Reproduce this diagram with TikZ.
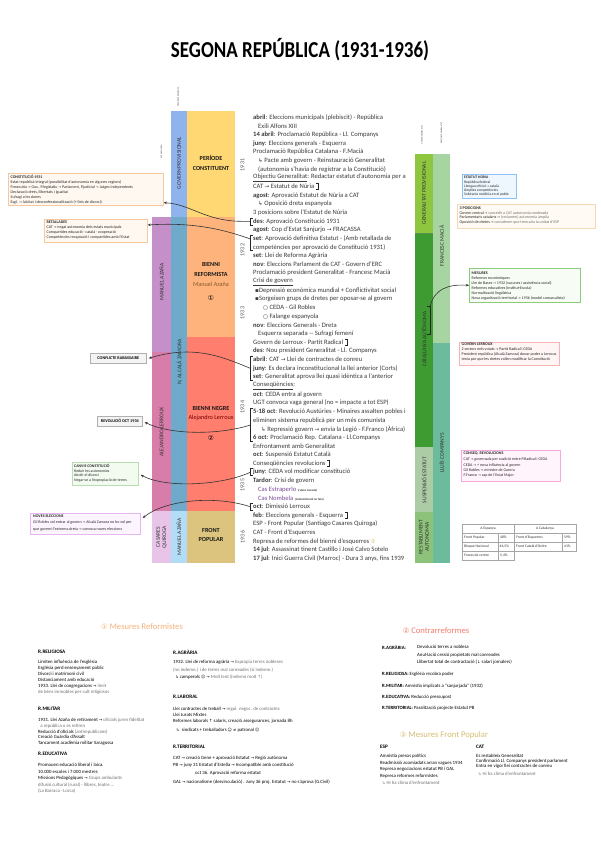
\documentclass[tikz,border=0pt]{standalone}
\usepackage{fontspec}
\setmainfont{Carlito}
\newfontfamily\djv[Scale=0.85]{DejaVu Sans}
\usetikzlibrary{arrows.meta}
\pgfdeclarelayer{bglayer}
\pgfdeclarelayer{connlayer}
\pgfdeclarelayer{toplayer}
\pgfsetlayers{bglayer,connlayer,main,toplayer}
\definecolor{tx}{HTML}{3A3A3A}
\definecolor{gry}{HTML}{707070}
\definecolor{cPurp}{HTML}{C58FC9}
\definecolor{cMauve}{HTML}{D87CAA}
\definecolor{cLilac}{HTML}{E8C4E9}
\definecolor{cBlueA}{HTML}{8FB3EC}
\definecolor{cBlueB}{HTML}{6FAACB}
\definecolor{cBlueC}{HTML}{B3DDF7}
\definecolor{cYel}{HTML}{FFD874}
\definecolor{cOra}{HTML}{FFB37C}
\definecolor{cRed}{HTML}{FF7E6E}
\definecolor{cKha}{HTML}{DCC37E}
\definecolor{bgY}{HTML}{FFF4D4}
\definecolor{bgPa}{HTML}{FDE4DC}
\definecolor{bgPb}{HTML}{FFC2C4}
\definecolor{bgYb}{HTML}{FAF4CA}
\definecolor{gGen}{HTML}{8EC63F}
\definecolor{gCat}{HTML}{3E9B32}
\definecolor{gSus}{HTML}{ABCCA5}
\definecolor{gRes}{HTML}{8DC27A}
\definecolor{gMac}{HTML}{A7D5A1}
\definecolor{gComp}{HTML}{6CBB9D}
\definecolor{bOra}{HTML}{F6C8A2}
\definecolor{bOraF}{HTML}{FFF8F1}
\definecolor{bGr}{HTML}{B0B0B0}
\definecolor{bGrF}{HTML}{F4F4F4}
\definecolor{bGn}{HTML}{B9DDB0}
\definecolor{bGnF}{HTML}{F3FBF1}
\definecolor{bVi}{HTML}{E7B5F2}
\definecolor{bViF}{HTML}{FCF4FF}
\definecolor{bBl}{HTML}{8EC2F2}
\definecolor{bBlF}{HTML}{EEF6FE}
\definecolor{bBe}{HTML}{F3D9B5}
\definecolor{bBeF}{HTML}{FFFBF4}
\definecolor{bMe}{HTML}{8CCB7A}
\definecolor{bMeF}{HTML}{F7FCF4}
\definecolor{bPk}{HTML}{F4B4B8}
\definecolor{bPkF}{HTML}{FFF5F5}
\definecolor{bMg}{HTML}{F7A8DE}
\definecolor{bMgF}{HTML}{FFF4FB}
\definecolor{tRef}{HTML}{F7B27A}
\definecolor{tCon}{HTML}{F47C6C}
\definecolor{tFP}{HTML}{D6BD72}
\definecolor{cPurTx}{HTML}{7A4A9A}
\newcommand\myra{{\djv →}}
\newcommand\myhk{{\djv ↳}}
\newcommand\mysq{{\djv ▪}}
\newcommand\myci{{\djv ○}}
\newcommand\TL[4]{\node[tl] (#1) at ({253+#3},{117.5+8.65*(#2-1)}) {#4};}
\newcommand\RB[1]{\draw[brk] ([xshift=1.5pt,yshift=3pt]#1.east) -- ++(2,0) -- ++(0,6) -- ++(-2,0); \coordinate (#1r) at ([xshift=3.5pt]#1.east);}
\newcommand\LB[4]{\draw[brk] (253,#1) -- (250.5,#1) -- (250.5,#2) -- (253,#2); \coordinate (#4) at (250.5,#3);}
\begin{document}
\begin{tikzpicture}[x=1pt,y=-1pt,
  tl/.style={anchor=west,inner sep=0pt,font=\fontsize{6.6}{7}\selectfont,text=tx},
  brk/.style={draw=black!85,line width=0.5pt},
  conn/.style={draw=black!80,line width=0.6pt},
  arr/.style={-{Stealth[length=3.2pt,width=2.6pt]}},
  vlab/.style={rotate=90,inner sep=0pt,font=\fontsize{5.6}{6.2}\selectfont,text=black!80,align=center},
  plab/.style={inner sep=0pt,align=center,font=\bfseries\fontsize{6.2}{9.5}\selectfont,text=black!90},
  ylab/.style={rotate=90,inner sep=0pt,font=\fontsize{6}{6}\selectfont,text=black!65},
  tiny/.style={rotate=90,inner sep=0pt,font=\fontsize{2}{2}\selectfont,text=black!80},
  bx/.style={draw,line width=0.7pt,inner sep=0pt,anchor=north west},
  bt/.style={anchor=north west,inner sep=0pt,align=left,text=black!85},
  bl/.style={anchor=north west,inner sep=0pt,align=left,font=\fontsize{4.8}{6}\selectfont,text=black},
  bh/.style={anchor=west,inner sep=0pt,font=\bfseries\fontsize{5.2}{6}\selectfont},
  sect/.style={inner sep=0pt,font=\fontsize{8.6}{9}\selectfont},
]
\useasboundingbox (0,0) rectangle (600,848);
\fill[white] (0,0) rectangle (600,848);

% title
\node[inner sep=0pt,font=\bfseries\fontsize{19}{20}\selectfont] (title) at (300,50) {\scalebox{1}[1.2]{SEGONA REPÚBLICA (1931-1936)}};

% backgrounds
\begin{pgfonlayer}{bglayer}
\fill[bgY] (250,111) rectangle (415,217);
\fill[bgPa] (250,217) rectangle (415,338.1);
\fill[bgPb] (250,338.1) rectangle (415,511.1);
\fill[bgYb] (250,511.1) rectangle (415,563);
\fill[black!7] (235,111) rectangle (250,217);
\fill[black!10] (235,217) rectangle (250,277.5);
\fill[black!4] (235,277.5) rectangle (250,355.4);
\fill[black!3] (235,355.4) rectangle (250,467.8);
\fill[black!10] (235,467.8) rectangle (250,511.1);
\fill[black!4] (235,511.1) rectangle (250,563);
\end{pgfonlayer}

% year labels
\node[ylab] (y31) at (242.5,165) {1931};
\node[ylab] (y32) at (242.5,250) {1932};
\node[ylab] (y33) at (242.5,313) {1933};
\node[ylab] (y34) at (242.5,407) {1934};
\node[ylab] (y35) at (242.5,485) {1935};
\node[ylab] (y36) at (242.5,537) {1936};

% left columns
\fill[cPurp] (152,217) rectangle (171,352);
\fill[cMauve] (152,352) rectangle (171,511.1);
\fill[cLilac] (152,511.1) rectangle (171,563);
\fill[cBlueA] (171,111) rectangle (187,217);
\fill[cBlueB] (171,217) rectangle (187,511.1);
\fill[cBlueC] (171,511.1) rectangle (187,563);
\fill[cYel] (187,111) rectangle (235,217);
\fill[cOra] (187,217) rectangle (235,337);
\fill[cRed] (187,337) rectangle (235,511.1);
\fill[cKha] (187,511.1) rectangle (235,563);

\node[vlab] (vAz) at (161.5,282) {MANUEL AZAÑA};
\node[vlab] (vLe) at (161.5,432) {ALEJANDRO LERROUX};
\node[vlab] (vCa) at (161.5,537) {CASARES\\QUIROGA};
\node[vlab] (vGp) at (179,163) {GOVERN PROVISIONAL};
\node[vlab] (vZa) at (179,362) {N. ALCALÁ ZAMORA};
\node[vlab] (vAz2) at (179,537) {MANUEL AZAÑA};
\node[tiny] (tp1) at (178,97) {PRESIDENT REPÚBLICA};
\node[tiny] (tp2) at (161.5,152) {CAP DE GOVERN};

\node[plab] (pC) at (211,163) {PERÍODE\\CONSTITUENT};
\node[plab] (pR) at (211,269.5) {BIENNI\\REFORMISTA};
\node[inner sep=0pt,font=\fontsize{6.2}{7}\selectfont,text=brown!70!black] (pRn) at (211,284.5) {Manuel Azaña};
\node[inner sep=0pt,font=\fontsize{8}{8}\selectfont] (pR1) at (211,298) {\djv ①};
\node[plab] (pN) at (211,408) {BIENNI NEGRE};
\node[inner sep=0pt,font=\fontsize{6.2}{7}\selectfont,text=red!45!black] (pNn) at (211,418) {Alejandro Lerroux};
\node[inner sep=0pt,font=\fontsize{8}{8}\selectfont] (pN2) at (211,438) {\djv ②};
\node[plab] (pF) at (211,535) {FRONT\\POPULAR};

% right columns
\fill[gGen] (415,154) rectangle (433,233);
\fill[gCat] (415,233) rectangle (433,447);
\fill[gSus] (415,447) rectangle (433,512);
\fill[gRes] (415,512) rectangle (433,563);
\fill[gMac] (433,154) rectangle (450,343);
\fill[gComp] (433,343) rectangle (450,563);
\draw[black!50,dotted,line width=0.4pt] (415,233) -- (433,233);
\node[vlab] (rGp) at (424,193) {GENERALITAT PROVISIONAL};
\node[vlab] (rCa) at (424,339) {CATALUNYA AUTÒNOMA};
\node[vlab] (rSu) at (424,480) {SUSPENSIÓ ESTATUT};
\node[vlab] (rRe) at (424,537) {RESTABLIMENT\\AUTONOMIA};
\node[vlab] (rMa) at (441.5,246) {FRANCESC MACIÀ};
\node[vlab] (rCo) at (441.5,453) {LLUÍS COMPANYS};
\node[tiny] (tp3) at (422,135) {GOVERN GENERALITAT};
\node[tiny] (tp4) at (441.5,133) {PRESIDENT GENERALITAT};

% central text
\TL{l1}{1}{0}{\textbf{abril}: Eleccions municipals (plebiscit) - República}
\TL{l2}{2}{5}{Exili Alfons XIII}
\TL{l3}{3}{0}{\textbf{14 abril}: Proclamació República - Ll. Companys}
\TL{l4}{4}{0}{\textbf{juny}: Eleccions generals - Esquerra}
\TL{l5}{5}{0}{Proclamació República Catalana - F.Macià}
\TL{l6}{6}{5}{\myhk\ Pacte amb govern - Reinstauració Generalitat}
\TL{l7}{7}{5}{(autonomia s'havia de registrar a la Constitució)}
\TL{l8}{8}{0}{\underline{Objectiu Generalitat}: Redactar estatut d'autonomia per a}
\TL{l9}{9}{0}{CAT \myra\ Estatut de Núria}
\TL{l10}{10}{0}{\textbf{agost}: Aprovació Estatut de Núria a CAT}
\TL{l11}{11}{5}{\myhk\ Oposició dreta espanyola}
\TL{l12}{12}{0}{3 posicions sobre l'Estatut de Núria}
\TL{l13}{13}{0}{\textbf{des}: Aprovació Constitució 1931}
\TL{l14}{14}{0}{\textbf{agost}: Cop d'Estat Sanjurjo \myra\ FRACASSA}
\TL{l15}{15}{0}{\textbf{set}: Aprovació definitiva Estatut - (Amb retallada de}
\TL{l16}{16}{0}{competències per aprovació de Constitució 1931)}
\TL{l17}{17}{0}{\textbf{set}: Llei de Reforma Agrària}
\TL{l18}{18}{0}{\textbf{nov}: Eleccions Parlament de CAT - Govern d'ERC}
\TL{l19}{19}{0}{Proclamació president Generalitat - Francesc Macià}
\TL{l20}{20}{0}{\underline{Crisi de govern}}
\TL{l21}{21}{2}{\mysq Depressió econòmica mundial + Conflictivitat social}
\TL{l22}{22}{2}{\mysq Sorgeixen grups de dretes per oposar-se al govern}
\TL{l23}{23}{10}{\myci\ CEDA - Gil Robles}
\TL{l24}{24}{10}{\myci\ Falange espanyola}
\TL{l25}{25}{0}{\textbf{nov}: Eleccions Generals - Dreta}
\TL{l26}{26}{5}{Esquerra separada -{}- Sufragi femení}
\TL{l27}{27}{0}{Govern de Lerroux - Partit Radical}
\TL{l28}{28}{0}{\textbf{des}: Nou president Generalitat - Ll. Companys}
\TL{l29}{29}{0}{\textbf{abril}: CAT \myra\ Llei de contractes de conreu}
\TL{l30}{30}{0}{\textbf{juny}: Es declara inconstitucional la llei anterior (Corts)}
\TL{l31}{31}{0}{\textbf{set}: Generalitat aprova llei quasi idèntica a l'anterior}
\TL{l32}{32}{0}{\underline{Conseqüències}:}
\TL{l33}{33}{0}{\textbf{oct}: CEDA entra al govern}
\TL{l34}{34}{0}{UGT convoca vaga general (no = impacte a tot ESP)}
\TL{l35}{35}{0}{\textbf{5-18 oct}: Revolució Austúries - Minaires assalten pobles i}
\TL{l36}{36}{0}{eliminen sistema republicà per un més comunista}
\TL{l37}{37}{8}{\myhk\ Repressió govern \myra\ envia la Legió - F.Franco (Àfrica)}
\TL{l38}{38}{0}{\textbf{6 oct}: Proclamació Rep. Catalana - Ll.Companys}
\TL{l39}{39}{0}{Enfrontament amb Generalitat}
\TL{l40}{40}{0}{\textbf{oct}: Suspensió Estatut Català}
\TL{l41}{41}{0}{Conseqüències revolucions}
\TL{l42}{42}{0}{\textbf{juny}: CEDA vol modificar constitució}
\TL{l43}{43}{0}{\textbf{Tardor}: Crisi de govern}
\TL{l44}{44}{5}{\textcolor{cPurTx}{Cas Estraperlo} {\fontsize{3}{3}\selectfont\bfseries (ruleta trucada)}}
\TL{l45}{45}{5}{\textcolor{cPurTx}{Cas Nombela} {\fontsize{3}{3}\selectfont\bfseries (indemnització no feta)}}
\TL{l46}{46}{0}{\textbf{oct}: Dimissió Lerroux}
\TL{l47}{47}{0}{\textbf{feb}: Eleccions generals - Esquerra}
\TL{l48}{48}{0}{ESP - Front Popular (Santiago Casares Quiroga)}
\TL{l49}{49}{0}{CAT - Front d'Esquerres}
\TL{l50}{50}{0}{Represa de reformes del bienni d'esquerres {\color{cKha}\djv ③}}
\TL{l51}{51}{0}{\textbf{14 jul}: Assassinat tinent Castillo i José Calvo Sotelo}
\TL{l52}{52}{0}{\textbf{17 jul}: Inici Guerra Civil (Marroc) - Dura 3 anys, fins 1939}

% brackets
\RB{l9}
\RB{l27}
\RB{l41}
\RB{l47}
\coordinate (l12r) at ([xshift=2pt]l12.east);
\LB{217.8}{224.8}{221.3}{b13}
\LB{235.1}{250.7}{239}{b15}
\LB{356.2}{380.5}{368.4}{b29}
\LB{408.1}{441}{425}{b35}
\LB{468.6}{475.7}{472.2}{b42}
\LB{503.2}{510.3}{506.8}{b46}
\draw[brk] (427,306) -- (430,306) -- (430,334) -- (427,334);
\coordinate (autb) at (430,307);

% left boxes
\node[bx,draw=bOra,fill=bOraF,minimum width=155pt,minimum height=32pt] (cons) at (8,173) {};
\node[bt,font=\fontsize{4}{5}\selectfont] (consT) at (10.5,174.6) {\textbf{CONSTITUCIÓ 1931}\\
Estat republicà integral (possibilitat d'autonomia en algunes regions)\\
P.executiu \myra\ Gov., P.legislatiu \myra\ Parlament, P.judicial \myra\ Jutges independents\\
Declaració drets, llibertats i igualtat\\
Sufragi a les dones\\
Esgl. \myra\ laïcitat i desconfessionalització (+ lleis de divorci)};

\node[bx,draw=bOra,fill=bOraF,minimum width=103pt,minimum height=23pt] (ret) at (44,219) {};
\node[bt,font=\fontsize{4}{5}\selectfont] (retT) at (46.5,220.7) {\textbf{RETALLADES}\\
CAT \myra\ negat autonomia dels estats municipals\\
Compartides educació · català · cooperació\\
Competències recaptació i compartides amb l'Estat};

\node[bx,draw=bGr,fill=bGrF,minimum width=56pt,minimum height=10pt] (rab) at (90,353) {};
\node[inner sep=0pt,font=\bfseries\fontsize{4.2}{5}\selectfont] (rabT) at (rab.center) {CONFLICTE RABASSAIRE};
\node[bx,draw=bGr,fill=bGrF,minimum width=45pt,minimum height=9.5pt] (rev) at (97,416) {};
\node[inner sep=0pt,font=\bfseries\fontsize{4.2}{5}\selectfont] (revT) at (rev.center) {REVOLUCIÓ OCT 1934};

\node[bx,draw=bGn,fill=bGnF,minimum width=66pt,minimum height=23pt] (canv) at (72,462) {};
\node[bt,font=\fontsize{3.9}{4.6}\selectfont] (canvT) at (74,464) {\textbf{CANVIS CONSTITUCIÓ}\\
Reduir les autonomies\\
Abolir el divorci\\
Negar-se a l'expropiació de terres};

\node[bx,draw=bVi,fill=bViF,minimum width=110pt,minimum height=21pt] (nov) at (30,513) {};
\node[bt,font=\fontsize{4}{6.5}\selectfont] (novT) at (33,514.3) {\textbf{NOVES ELECCIONS}\\
Gil Robles vol entrar al govern \myra\ Alcalá Zamora no ho vol per\\
que governi l'extrema dreta \myra\ convoca noves eleccions};

% right boxes
\node[bx,draw=bBl,fill=bBlF,minimum width=54pt,minimum height=24pt] (est) at (462,174) {};
\node[bt,font=\fontsize{3.7}{4.25}\selectfont] (estT) at (464,175.5) {\textbf{ESTATUT NÚRIA}\\
República federal\\
Llengua oficial \myra\ català\\
Àmplies competències\\
Sobirania residiria en el poble};

\node[bx,draw=bBe,fill=bBeF,minimum width=138pt,minimum height=24pt] (tres) at (457,204) {};
\node[bt,font=\fontsize{4}{4.9}\selectfont] (tresT) at (459.5,206.3) {\textbf{3 POSICIONS}\\
Govern central \myra\ \textcolor{gry}{concedir a CAT autonomia moderada}\\
Parlamentaris catalans \myra\ \textcolor{gry}{(reclamen) autonomia àmplia}\\
Oposició de dretes \myra\ \textcolor{gry}{consideren que trencaria la unitat d'ESP}};

\node[bx,draw=bMe,fill=bMeF,minimum width=111pt,minimum height=34pt] (mes) at (469,268) {};
\node[bt,font=\fontsize{4}{5.15}\selectfont] (mesT) at (471.5,271.2) {\textbf{MESURES}\\
Reformes econòmiques\\
Llei de Bases \myra\ 1932 (vacunes i assistència social)\\
Reformes educatives (Institut-Escola)\\
Normalització lingüística\\
Nova organització territorial \myra\ 1936 (model comarcalista)};

\node[bx,draw=bPk,fill=bPkF,minimum width=100pt,minimum height=23pt] (ler) at (459,342) {};
\node[bt,font=\fontsize{4}{5}\selectfont] (lerT) at (461.5,343) {\textbf{GOVERN LERROUX}\\
2 sectors més votats \myra\ Partit Radical i CEDA\\
President república (Alcalá Zamora) donar poder a Lerroux\\
tenia por que les dretes volien modificar la Constitució};

\node[bx,draw=bMg,fill=bMgF,minimum width=99pt,minimum height=31pt] (csq) at (461,450) {};
\node[bt,font=\fontsize{4}{5.2}\selectfont] (csqT) at (463.5,452) {\textbf{CONSEQ. REVOLUCIONS}\\[0.8pt]
CAT \myra\ governada per coalició entre P.Radical i CEDA\\
CEDA \myra\ + nova influència al govern\\
Gil Robles \myra\ ministre de Guerra\\
F.Franco \myra\ cap de l'Estat Major};

% table
\node[draw=black!35,line width=0.5pt,inner sep=0pt,anchor=north west,minimum width=114pt,minimum height=27pt] (tab) at (462,524) {};
\draw[black!35,line width=0.5pt] (462,551) -- (462,560) -- (514,560) -- (514,524);
\draw[black!35,line width=0.5pt] (498,533) -- (498,560);
\draw[black!35,line width=0.5pt] (562,533) -- (562,551);
\draw[black!35,line width=0.5pt] (462,533) -- (576,533);
\draw[black!35,line width=0.5pt] (462,542) -- (576,542);
\begin{scope}[every node/.style={inner sep=0pt,font=\fontsize{3.7}{4}\selectfont,text=black!80}]
\node (th1) at (488,528.5) {A Espanya};
\node (th2) at (545,528.5) {A Catalunya};
\node[anchor=west] (t11) at (464,537.5) {Front Popular};
\node[anchor=west] (t12) at (500,537.5) {48\%};
\node[anchor=west] (t13) at (516,537.5) {Front d'Esquerres};
\node[anchor=west] (t14) at (564,537.5) {59\%};
\node[anchor=west] (t21) at (464,546.5) {Bloque Nacional};
\node[anchor=west] (t22) at (499.5,546.5) {46,5\%};
\node[anchor=west] (t23) at (516,546.5) {Front Català d'Ordre};
\node[anchor=west] (t24) at (564,546.5) {41\%};
\node[anchor=west] (t31) at (464,555.5) {Forces de centre};
\node[anchor=west] (t32) at (500,555.5) {5,4\%};
\end{scope}

% connectors behind right columns
\begin{pgfonlayer}{connlayer}
\draw[conn,arr] (l9r) -- (est.west |- l9r);
\draw[conn,arr] (l12r) .. controls (385,196) and (425,200) .. ([yshift=-1pt]tres.west);
\draw[conn,arr] (l27r) .. controls (390,333) and (430,342) .. ([yshift=-0.5pt]ler.west);
\draw[conn,arr] (l41r) .. controls (380,450) and (430,458) .. ([yshift=-3pt]csq.west);
\draw[conn,arr] (l47r) .. controls (390,503) and (432,510) .. (tab.north west);
\end{pgfonlayer}

% connectors on top
\begin{pgfonlayer}{toplayer}
\draw[conn,arr] (autb) .. controls (434,289) and (448,284) .. (mes.west);
\draw[conn,arr] (b13) -- (241,221.3) .. controls (205,221) and (190,204) .. ([yshift=3pt]cons.south east);
\draw[conn,arr] (b15) .. controls (225,230) and (195,222) .. ([yshift=-6pt]ret.north east);
\draw[conn,arr] (b29) .. controls (225,358) and (195,344) .. ([xshift=2pt]rab.east);
\draw[conn,arr] (b35) .. controls (215,436) and (168,434) .. ([xshift=2pt,yshift=-1pt]rev.east);
\draw[conn,arr] (b42) .. controls (220,486) and (165,488) .. ([xshift=2pt,yshift=-1pt]canv.east);
\draw[conn,arr] (b46) .. controls (215,495) and (165,500) .. ([xshift=2pt,yshift=-5pt]nov.north east);
\end{pgfonlayer}

% bottom: reformistes
\node[sect,text=tRef] (sRef) at (142,627) {{\djv ①} Mesures Reformistes};
\node[bh] (hRel) at (38,652) {R.RELIGIOSA};
\node[bl] (bRel) at (38,660) {Limiten influència de l'església\\
Església perd ensenyament públic\\
Divorci i matrimoni civil\\
Distanciament amb educació\\
1933. Llei de congregacions \myra\ \textcolor{gry}{límit}\\
\textcolor{gry}{de béns immobles per cult religiosos}};
\node[bh] (hMil) at (38,709) {R.MILITAR};
\node[bl,font=\fontsize{4.8}{5.8}\selectfont] (bMil) at (38,718) {1931. Llei Azaña de retirament \myra\ \textcolor{gry}{oficials juren fidelitat}\\
\textcolor{gry}{\ \ a república o es retiren}\\
Reducció d'oficials \textcolor{gry}{(antirepublicans)}\\
Creació Guàrdia d'Assalt\\
Tancament acadèmia militar Saragossa};
\node[bh] (hEdu) at (38,754) {R.EDUCATIVA};
\node[bl,font=\fontsize{4.8}{6.5}\selectfont] (bEdu) at (38,763) {Promouen educació liberal i laica.\\
10.000 escoles i 7.000 mestres\\
Missions Pedagògiques \myra\ \textcolor{gry}{Grups ambulants}\\
\textcolor{gry}{difusió cultural (rural) - llibres, teatre ...}\\
\textcolor{gry}{(La Barraca - Lorca)}};

\node[bh] (hAgr) at (173,652) {R.AGRÀRIA};
\node[bl,font=\fontsize{4.8}{7.5}\selectfont] (bAgr) at (173,660) {1932. Llei de reforma agrària \myra\ \textcolor{gry}{Expropia terres nobleses}\\
\textcolor{gry}{(no indemn.) i de terres mal conreades (sí indemn.)}\\
\ \ \myhk\ camperols {\djv ☹} \myra\ \textcolor{gry}{Molt lent (indemn molt {\djv ↑})}};
\node[bh] (hLab) at (173,697) {R.LABORAL};
\node[bl] (bLab) at (173,707) {Llei contractes de treball \myra\ \textcolor{gry}{regul. negoc. de contractes}\\
Llei Jurats Mixtes\\
Reformes laborals {\djv ↑} salaris, creació assegurances, jornada 8h};
\node[bl] (bLab2) at (176,728) {\myhk\ \ sindicats + treballadors {\djv ☺} {\djv ≠} patronal {\djv ☹}};
\node[bh] (hTer) at (173,747) {R.TERRITORIAL};
\node[bl] (bTer1) at (173,756) {CAT \myra\ creació Gene + aprovació Estatut \myra\ Regió autònoma};
\node[bl] (bTer2) at (173,763) {PB \myra\ juny 31 Estatut d'Estella \myra\ Incompatible amb constitució};
\node[bl] (bTer3) at (195,771) {oct 36. Aprovació reforma estatut};
\node[bl] (bTer4) at (173,780) {GAL \myra\ nacionalisme (desvinculació) . Juny 36 proj. Estatut \myra\ no s'aprova (G.Civil)};

% bottom: contrarreformes
\node[sect,text=tCon] (sCon) at (436,631) {{\djv ②} Contrarreformes};
\node[bl] (cAgrH) at (382,645) {\textbf{R.AGRÀRIA:}};
\node[bl,font=\fontsize{4.8}{7.5}\selectfont] (cAgr) at (417,645) {Devolució terres a noblesa\\
Anul·lació cessió propietats mal conreades\\
Llibertat total de contractació ({\djv ↓} salari jornalers)};
\node[bl] (cRel) at (382,672) {\textbf{R.RELIGIOSA:} Església recobra poder};
\node[bl] (cMil) at (382,684) {\textbf{R.MILITAR:} Amnistia implicats a ``sanjurjada'' (1932)};
\node[bl] (cEdu) at (382,695) {\textbf{R.EDUCATIVA:} Reducció pressupost};
\node[bl] (cTer) at (382,706) {\textbf{R.TERRITORIAL:} Paralització projecte Estatut PB};

% bottom: front popular
\node[sect,text=tFP] (sFP) at (444,735) {{\djv ③} Mesures Front Popular};
\node[bh] (fEspH) at (380,747) {ESP};
\node[bl,font=\fontsize{4.8}{6.7}\selectfont] (fEsp) at (380,754) {Amnistia presos polítics\\
Readmissió acomiadats arran vagues 1934\\
Represa negociacions estatut PB i GAL\\
Represa reformes reformistes};
\node[bl,text=gry] (fEsp2) at (382,781) {\myhk\ Hi ha clima d'enfrontament};
\node[bh] (fCatH) at (476,747) {CAT};
\node[bl,font=\fontsize{4.8}{5.2}\selectfont] (fCat) at (476,754) {Es restableix Generalitat\\
Confirmació Ll. Companys president parlament\\
Entra en vigor llei contractes de conreu};
\node[bl,text=gry] (fCat2) at (478,772) {\myhk\ Hi ha clima d'enfrontament};
\end{tikzpicture}
\end{document}
